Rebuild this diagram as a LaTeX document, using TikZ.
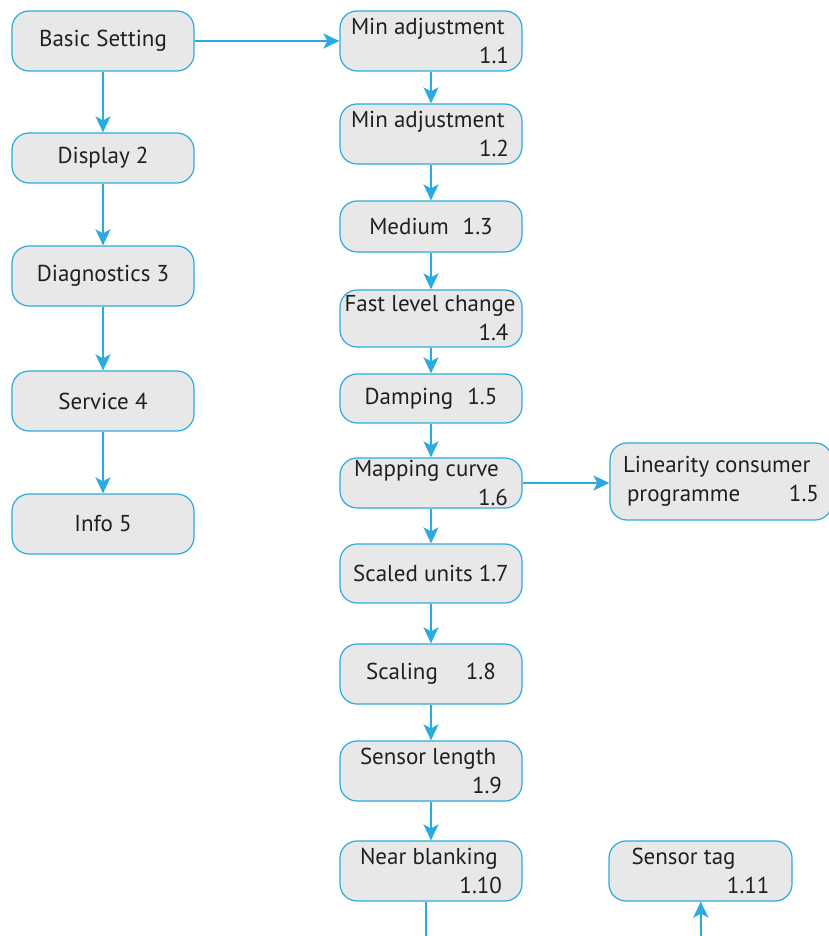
\documentclass[tikz,border=0pt]{standalone}
\usepackage{fontspec}
\setmainfont{PT Sans}
\usetikzlibrary{arrows.meta}
\definecolor{menublue}{RGB}{41,171,226}
\definecolor{menugray}{RGB}{232,232,232}
\definecolor{menutext}{RGB}{35,31,32}
\newcommand{\twoline}[3]{\parbox{#1}{#2\par\raggedleft #3}}
\tikzset{menubox/.style={draw=menublue,line width=1.2pt,fill=menugray,rounded corners=17pt,
    minimum width=182pt,minimum height=60pt,inner sep=0pt,text=menutext,
    font=\fontsize{23}{29}\selectfont},
  link/.style={draw=menublue,line width=2pt,-{Stealth[length=16pt,width=15pt,inset=4pt]}}}
\begin{document}
\begin{tikzpicture}[x=1pt,y=-1pt]
  \useasboundingbox (0,0) rectangle (828,936);
  % main menu
  \node[menubox] (basic) at (103,41) {Basic Setting};
  \node[menubox,minimum height=50pt] (display) at (103,158) {Display 2};
  \node[menubox] (diag) at (103,276) {Diagnostics 3};
  \node[menubox] (service) at (103,401) {Service 4};
  \node[menubox] (info) at (103,524) {Info 5};
  % basic setting submenu
  \node[menubox] (m11) at (431,41) {\twoline{160pt}{Min adjustment}{1.1\hspace*{2pt}}};
  \node[menubox] (m12) at (431,134) {\twoline{160pt}{Min adjustment}{1.2\hspace*{2pt}}};
  \node[menubox,minimum height=51pt] (m13) at (431,226.5) {Medium\hspace{14pt}1.3};
  \node[menubox,minimum height=57pt] (m14) at (431,318.5) {\twoline{173pt}{Fast level change}{1.4\hspace*{9pt}}};
  \node[menubox,minimum height=49pt] (m15) at (431,398.5) {Damping\hspace{14pt}1.5};
  \node[menubox,minimum height=50pt] (m16) at (431,483) {\twoline{154pt}{Mapping curve}{1.6}};
  \node[menubox,minimum height=59pt] (m17) at (431,573.5) {Scaled units\hspace{6pt}1.7};
  \node[menubox] (m18) at (431,674) {Scaling\hspace{28pt}1.8};
  \node[menubox] (m19) at (431,771) {\twoline{142pt}{Sensor length}{1.9}};
  \node[menubox] (m110) at (431,871) {\twoline{142pt}{Near blanking}{1.10}};
  \node[menubox,minimum width=222pt,minimum height=77pt] (lin) at (721,481.5)
    {\twoline{196pt}{Linearity consumer}{\hspace*{4pt}programme\hfill 1.5}};
  \node[menubox,minimum width=183pt] (tag) at (700.5,871) {\twoline{138pt}{Sensor tag}{1.11}};
  \coordinate (out) at (426,936);
  \coordinate (in) at (701,936);
  % connectors
  \draw[link] (basic) -- (m11);
  \draw[link] (basic) -- (display);
  \draw[link] (display) -- (diag);
  \draw[link] (diag) -- (service);
  \draw[link] (service) -- (info);
  \foreach \a/\b in {m11/m12,m12/m13,m13/m14,m14/m15,m15/m16,m16/m17,m17/m18,m18/m19,m19/m110}
    \draw[link] (\a) -- (\b);
  \draw[link] (m16) -- (m16 -| lin.west);
  \draw[draw=menublue,line width=2pt] (m110.south -| out) -- (out);
  \draw[link] (in) -- (tag);
\end{tikzpicture}
\end{document}
